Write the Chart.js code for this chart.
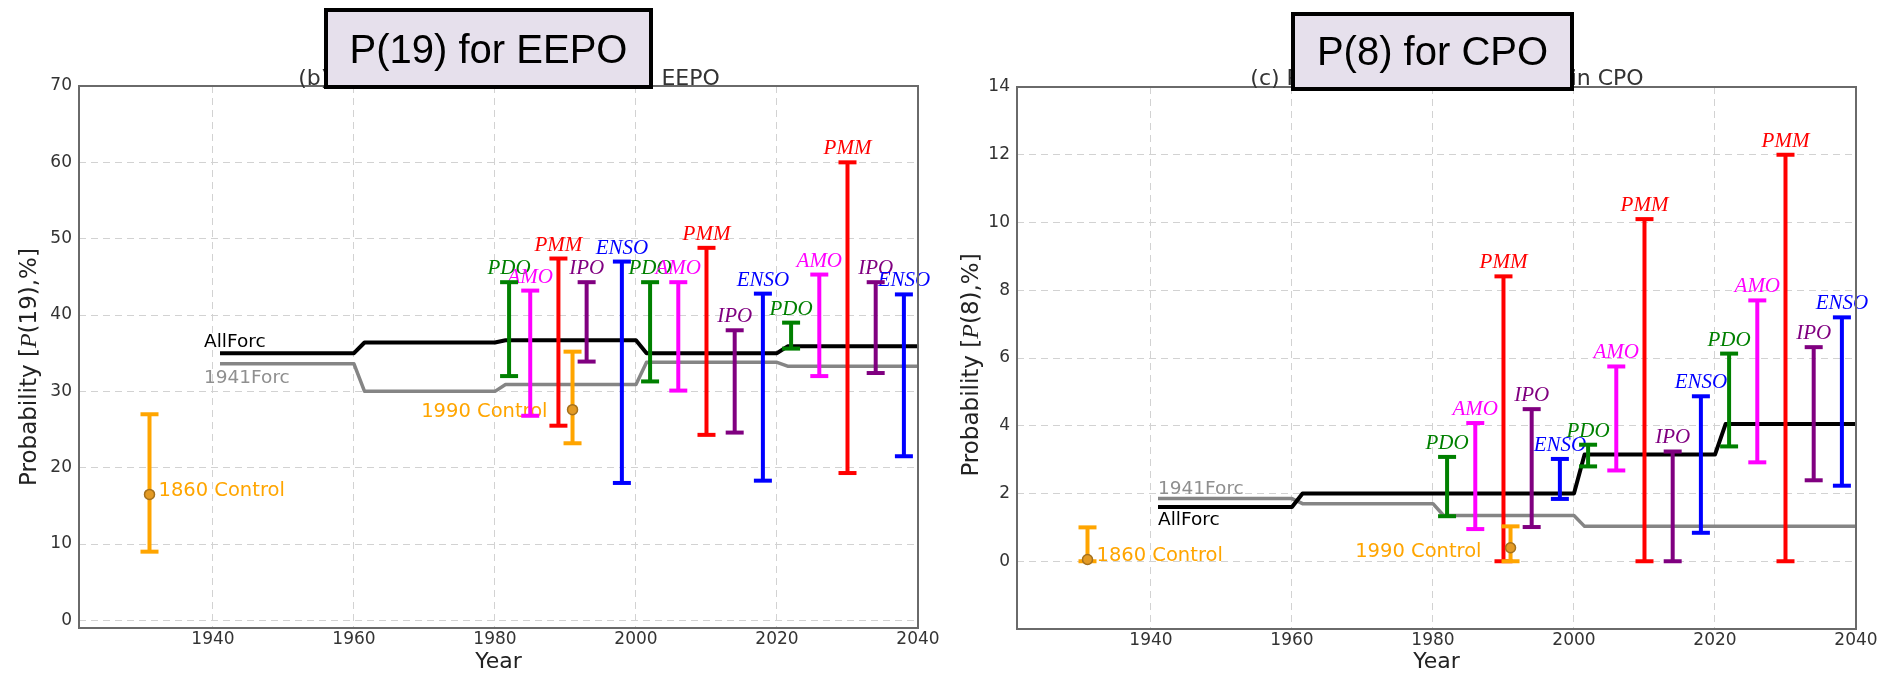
<!DOCTYPE html>
<html>
<head>
<meta charset="utf-8">
<script src="https://cdn.jsdelivr.net/npm/chart.js@4.4.1/dist/chart.umd.min.js"></script>
<style>
  html, body { margin: 0; padding: 0; background: #ffffff; }
  #wrap { position: relative; width: 1895px; height: 677px; overflow: hidden; }
  .panel { position: absolute; top: 0; height: 677px; }
</style>
</head>
<body>
<div id="wrap">
  <div class="panel" style="left:0;width:947px"><canvas id="c1" width="947" height="677"></canvas></div>
  <div class="panel" style="left:947px;width:948px"><canvas id="c2" width="948" height="677"></canvas></div>
</div>
<script>
// ---------- shared axis values ----------
const yearTicks = [1940, 1960, 1980, 2000, 2020, 2040];
const forcYears = [1941, 1960, 1961.5, 1980, 1981.5, 2000, 2001.5, 2020, 2021.5, 2040];

// ---------- (b) EEPO, P(19) ----------
const eepoTicks = [0, 10, 20, 30, 40, 50, 60, 70];
const eepoModes = ['PDO', 'AMO', 'PMM', 'IPO', 'ENSO', 'PDO', 'AMO', 'PMM', 'IPO', 'ENSO', 'PDO', 'AMO', 'PMM', 'IPO', 'ENSO'];
const eepoYears = [1982, 1985, 1989, 1993, 1998, 2002, 2006, 2010, 2014, 2018, 2022, 2026, 2030, 2034, 2038];
const eepoLow   = [32.0, 26.8, 25.5, 33.9, 18.0, 31.3, 30.1, 24.3, 24.6, 18.3, 35.6, 32.0, 19.3, 32.4, 21.5];
const eepoHigh  = [44.3, 43.2, 47.4, 44.3, 47.0, 44.3, 44.3, 48.8, 38.0, 42.8, 39.0, 45.3, 60.0, 44.3, 42.7];
const eepoControlNames = ['1860 Control', '1990 Control'];
const eepoControlYears = [1931, 1991];
const eepoControlLow   = [9.0, 23.2];
const eepoControlHigh  = [27.0, 35.2];
const eepoControlMean  = [16.5, 27.6];
const eepoAllForc  = [35.0, 35.0, 36.4, 36.4, 36.7, 36.7, 35.0, 35.0, 35.9, 35.9];
const eepo1941Forc = [33.6, 33.6, 30.0, 30.0, 30.9, 30.9, 33.8, 33.8, 33.3, 33.3];

// ---------- (c) CPO, P(8) ----------
const cpoTicks = [0, 2, 4, 6, 8, 10, 12, 14];
const cpoModes = ['PDO', 'AMO', 'PMM', 'IPO', 'ENSO', 'PDO', 'AMO', 'PMM', 'IPO', 'ENSO', 'PDO', 'AMO', 'PMM', 'IPO', 'ENSO'];
const cpoYears = [1982, 1986, 1990, 1994, 1998, 2002, 2006, 2010, 2014, 2018, 2022, 2026, 2030, 2034, 2038];
const cpoLow   = [1.33, 0.95, 0.0, 1.01, 1.84, 2.80, 2.68, 0.0, 0.0, 0.84, 3.39, 2.92, 0.0, 2.39, 2.23];
const cpoHigh  = [3.08, 4.08, 8.41, 4.49, 3.02, 3.44, 5.75, 10.1, 3.24, 4.87, 6.13, 7.70, 12.0, 6.32, 7.20];
const cpoControlNames = ['1860 Control', '1990 Control'];
const cpoControlYears = [1931, 1991];
const cpoControlLow   = [0.0, 0.0];
const cpoControlHigh  = [1.0, 1.03];
const cpoControlMean  = [0.05, 0.4];
const cpoAllForc  = [1.6, 1.6, 2.0, 2.0, 2.0, 2.0, 3.15, 3.15, 4.05, 4.05];
const cpo1941Forc = [1.85, 1.85, 1.7, 1.7, 1.35, 1.35, 1.03, 1.03, 1.03, 1.03];

// ---------- styling ----------
const modeColor = { PDO: '#008000', AMO: '#ff00ff', PMM: '#ff0000', IPO: '#800080', ENSO: '#0000ff' };
const controlColor = '#ffa500';
const tickFont = { family: 'DejaVu Sans', size: 17 };
const gridColor = '#d2d2d2';

const panels = [
  {
    canvas: 'c1',
    title: '(b) Probability of P(19) events in EEPO', titleX: 509, titleBase: 85,
    box: { text: 'P(19) for EEPO', x0: 324, y0: 8, x1: 653, y1: 89, base: 63 },
    yTitle: ['Probability [', 'P', '(19),%]'], yTitleX: 28, yTitleY: 367,
    modes: eepoModes, years: eepoYears, low: eepoLow, high: eepoHigh,
    ctrlNames: eepoControlNames, ctrlYears: eepoControlYears, ctrlLow: eepoControlLow,
    ctrlHigh: eepoControlHigh, ctrlMean: eepoControlMean,
    ctrlLabel: [{ align: 'left', dx: 9, dy: -3 }, { align: 'right', dx: -25, dy: 2 }],
    allForc: eepoAllForc, forc1941: eepo1941Forc,
    forcLabel: { all: { dx: -16, dy: -6 }, f41: { dx: -16, dy: 19 } },
    yMin: -1, yMax: 70, yTicks: eepoTicks,
    pad: { left: 0, top: 86, right: 29, bottom: 0 }, yWidth: 79, xHeight: 49
  },
  {
    canvas: 'c2',
    title: '(c) Probability of P(8) events in CPO', titleX: 500, titleBase: 85,
    box: { text: 'P(8) for CPO', x0: 344, y0: 12, x1: 627, y1: 91, base: 65 },
    yTitle: ['Probability [', 'P', '(8),%]'], yTitleX: 23, yTitleY: 365,
    modes: cpoModes, years: cpoYears, low: cpoLow, high: cpoHigh,
    ctrlNames: cpoControlNames, ctrlYears: cpoControlYears, ctrlLow: cpoControlLow,
    ctrlHigh: cpoControlHigh, ctrlMean: cpoControlMean,
    ctrlLabel: [{ align: 'left', dx: 9, dy: -4 }, { align: 'right', dx: -29, dy: 4 }],
    allForc: cpoAllForc, forc1941: cpo1941Forc,
    forcLabel: { all: { dx: 0, dy: 18 }, f41: { dx: 0, dy: -5 } },
    yMin: -2, yMax: 14, yTicks: cpoTicks,
    pad: { left: 0, top: 87, right: 39, bottom: 0 }, yWidth: 70, xHeight: 48
  }
];

function errorBar(x, lo, hi, color, order) {
  return {
    type: 'line',
    data: [{ x: x, y: lo }, { x: x, y: hi }],
    borderColor: color, borderWidth: 4, borderCapStyle: 'butt',
    pointStyle: 'line', pointRadius: 9, pointBorderWidth: 4,
    pointBorderColor: color, pointBackgroundColor: color,
    order: order
  };
}

function buildDatasets(p) {
  const ds = [];
  ds.push({
    type: 'line', data: forcYears.map((x, i) => ({ x: x, y: p.allForc[i] })),
    borderColor: '#000000', borderWidth: 4, borderJoinStyle: 'round', pointRadius: 0, order: 4
  });
  ds.push({
    type: 'line', data: forcYears.map((x, i) => ({ x: x, y: p.forc1941[i] })),
    borderColor: '#858585', borderWidth: 3.5, borderJoinStyle: 'round', pointRadius: 0, order: 5
  });
  p.modes.forEach((m, i) => ds.push(errorBar(p.years[i], p.low[i], p.high[i], modeColor[m], 2)));
  p.ctrlYears.forEach((yr, i) => ds.push(errorBar(yr, p.ctrlLow[i], p.ctrlHigh[i], controlColor, 1)));
  ds.push({
    type: 'scatter', showLine: false,
    data: p.ctrlYears.map((yr, i) => ({ x: yr, y: p.ctrlMean[i] })),
    pointStyle: 'circle', pointRadius: 5, pointBackgroundColor: '#e39a25',
    pointBorderColor: '#a4701c', pointBorderWidth: 1.5, order: 0
  });
  return ds;
}

// text drawn beneath the marks: mode names, run names, control names
const underLabels = {
  id: 'underLabels',
  beforeDatasetsDraw(chart, args, opts) {
    const p = opts.panel; const ctx = chart.ctx;
    const xs = chart.scales.x, ys = chart.scales.y;
    ctx.save();
    ctx.textAlign = 'center'; ctx.textBaseline = 'alphabetic';
    ctx.font = 'italic 21px "Liberation Serif"';
    p.modes.forEach((m, i) => {
      ctx.fillStyle = modeColor[m];
      ctx.fillText(m, xs.getPixelForValue(p.years[i]), ys.getPixelForValue(p.high[i]) - 8);
    });
    ctx.font = '18.5px "DejaVu Sans"';
    ctx.textAlign = 'left';
    const x0 = xs.getPixelForValue(forcYears[0]);
    ctx.fillStyle = '#000000';
    ctx.fillText('AllForc', x0 + p.forcLabel.all.dx, ys.getPixelForValue(p.allForc[0]) + p.forcLabel.all.dy);
    ctx.fillStyle = '#8f8f8f';
    ctx.fillText('1941Forc', x0 + p.forcLabel.f41.dx, ys.getPixelForValue(p.forc1941[0]) + p.forcLabel.f41.dy);
    ctx.font = '19.5px "DejaVu Sans"';
    ctx.fillStyle = controlColor;
    ctx.textBaseline = 'middle';
    p.ctrlNames.forEach((name, i) => {
      const l = p.ctrlLabel[i];
      ctx.textAlign = l.align;
      ctx.fillText(name, xs.getPixelForValue(p.ctrlYears[i]) + l.dx, ys.getPixelForValue(p.ctrlMean[i]) + l.dy);
    });
    ctx.restore();
  }
};

function drawRotatedTitle(ctx, parts, cx, cy) {
  const fonts = ['23px "DejaVu Sans"', 'italic 24px "Liberation Serif"', '23px "DejaVu Sans"'];
  ctx.save();
  ctx.translate(cx, cy);
  ctx.rotate(-Math.PI / 2);
  let w = 0; const ws = [];
  parts.forEach((t, i) => { ctx.font = fonts[i]; ws.push(ctx.measureText(t).width); w += ws[i]; });
  let x = -w / 2;
  ctx.fillStyle = '#222222'; ctx.textAlign = 'left'; ctx.textBaseline = 'alphabetic';
  parts.forEach((t, i) => { ctx.font = fonts[i]; ctx.fillText(t, x, 8); x += ws[i]; });
  ctx.restore();
}

// frame, axis titles, panel title and the label box on top
const overlay = {
  id: 'overlay',
  afterDraw(chart, args, opts) {
    const p = opts.panel; const ctx = chart.ctx; const a = chart.chartArea;
    ctx.save();
    ctx.strokeStyle = '#6a6a6a'; ctx.lineWidth = 2;
    ctx.strokeRect(a.left, a.top, a.right - a.left, a.bottom - a.top);

    ctx.fillStyle = '#222222'; ctx.textAlign = 'center'; ctx.textBaseline = 'alphabetic';
    ctx.font = '22px "DejaVu Sans"';
    ctx.fillText('Year', (a.left + a.right) / 2, 668);
    drawRotatedTitle(ctx, p.yTitle, p.yTitleX, p.yTitleY);

    ctx.fillStyle = '#333333';
    ctx.font = '22px "DejaVu Sans"';
    ctx.fillText(p.title, p.titleX, p.titleBase);

    const b = p.box;
    ctx.fillStyle = '#e6e0ec';
    ctx.fillRect(b.x0, b.y0, b.x1 - b.x0, b.y1 - b.y0);
    ctx.strokeStyle = '#000000'; ctx.lineWidth = 4;
    ctx.strokeRect(b.x0 + 2, b.y0 + 2, b.x1 - b.x0 - 4, b.y1 - b.y0 - 4);
    ctx.fillStyle = '#000000';
    ctx.font = '40px "Liberation Sans"';
    ctx.fillText(b.text, (b.x0 + b.x1) / 2, b.base);
    ctx.restore();
  }
};

panels.forEach(p => {
  new Chart(document.getElementById(p.canvas), {
    type: 'scatter',
    data: { datasets: buildDatasets(p) },
    plugins: [underLabels, overlay],
    options: {
      responsive: false,
      animation: false,
      events: [],
      layout: { padding: p.pad },
      plugins: {
        legend: { display: false },
        tooltip: { enabled: false },
        underLabels: { panel: p },
        overlay: { panel: p }
      },
      scales: {
        x: {
          type: 'linear', min: 1921, max: 2040,
          afterBuildTicks: s => { s.ticks = yearTicks.map(v => ({ value: v })); },
          afterFit: s => { s.height = p.xHeight; },
          ticks: {
            font: tickFont, color: '#333333', padding: 1, maxRotation: 0, autoSkip: false,
            callback: v => String(v)
          },
          grid: { color: gridColor, lineWidth: 1, drawTicks: false },
          border: { display: false, dash: [7, 5] }
        },
        y: {
          type: 'linear', min: p.yMin, max: p.yMax,
          afterBuildTicks: s => { s.ticks = p.yTicks.map(v => ({ value: v })); },
          afterFit: s => { s.width = p.yWidth; },
          ticks: { font: tickFont, color: '#333333', padding: 7, callback: v => String(v) },
          grid: { color: gridColor, lineWidth: 1, drawTicks: false },
          border: { display: false, dash: [7, 5] }
        }
      }
    }
  });
});
</script>
</body>
</html>
